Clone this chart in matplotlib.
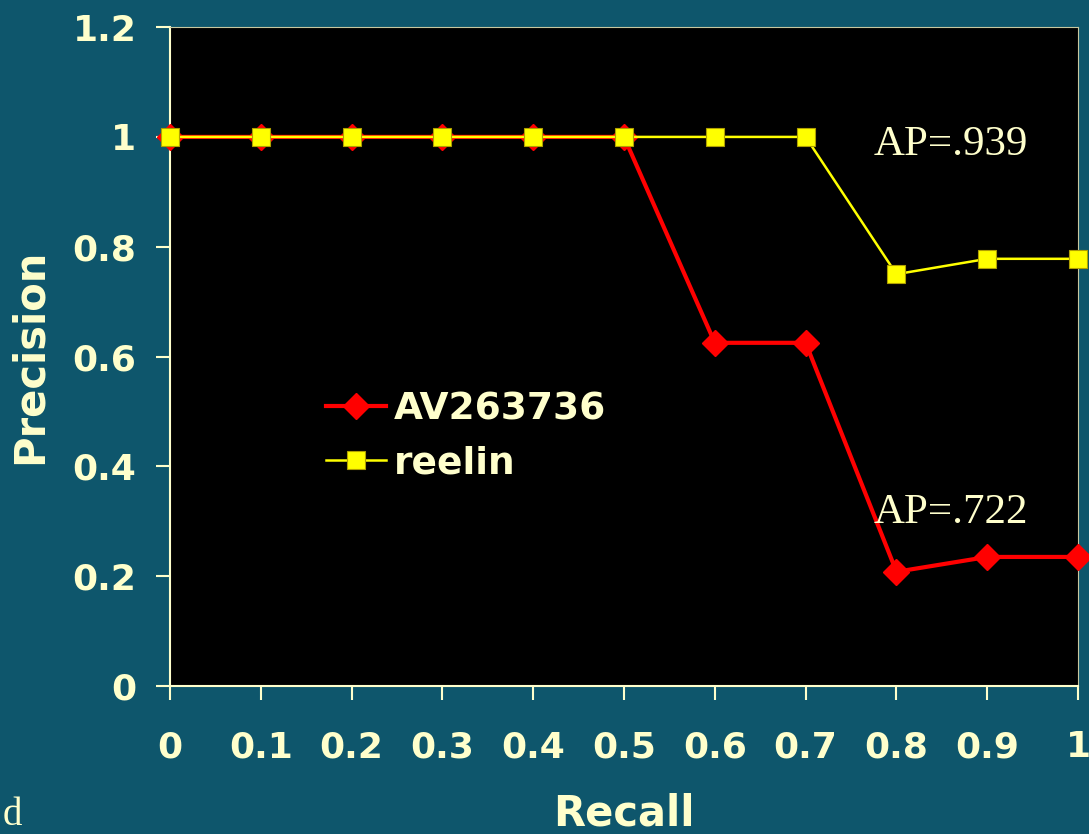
import matplotlib.pyplot as plt

recall = [0, 0.1, 0.2, 0.3, 0.4, 0.5, 0.6, 0.7, 0.8, 0.9, 1.0]
av263736 = [1, 1, 1, 1, 1, 1, 0.625, 0.625, 0.208, 0.235, 0.235]
reelin = [1, 1, 1, 1, 1, 1, 1, 1, 0.75, 0.778, 0.778]
xticks = [0, 0.1, 0.2, 0.3, 0.4, 0.5, 0.6, 0.7, 0.8, 0.9, 1]
xlabels = ["0", "0.1", "0.2", "0.3", "0.4", "0.5", "0.6", "0.7", "0.8", "0.9", "1"]
yticks = [0, 0.2, 0.4, 0.6, 0.8, 1, 1.2]
ylabels = ["0", "0.2", "0.4", "0.6", "0.8", "1", "1.2"]

bg = "#0e566c"
cream = "#ffffcc"

fig = plt.figure(figsize=(10.89, 8.34), dpi=100, facecolor=bg)
ax = fig.add_axes([0.156, 0.1775, 0.834, 0.79])
ax.set_facecolor("black")

ax.plot(recall, av263736, color="#ff0000", lw=3, marker="D", markersize=13,
        markeredgecolor="#ff0000", label="AV263736", clip_on=False, zorder=3)
ax.plot(recall, reelin, color="#ffff00", lw=1.8, marker="s", markersize=13,
        markeredgecolor="#b0a000", markeredgewidth=0.8, label="reelin",
        clip_on=False, zorder=4)

ax.set_xlim(0, 1)
ax.set_ylim(0, 1.2)
ax.set_xticks(xticks)
ax.set_xticklabels(xlabels)
ax.set_yticks(yticks)
ax.set_yticklabels(ylabels)
ax.tick_params(axis="x", colors=cream, length=10, width=1.5, pad=22,
               labelsize=26)
ax.tick_params(axis="y", colors=cream, length=10, width=1.5, pad=14,
               labelsize=26)
for lab in ax.get_xticklabels() + ax.get_yticklabels():
    lab.set_fontweight("bold")

for s in ["left", "bottom"]:
    ax.spines[s].set_color(cream)
    ax.spines[s].set_linewidth(1.5)
for s in ["top", "right"]:
    ax.spines[s].set_color("#c8c8a0")
    ax.spines[s].set_linewidth(0.8)

ax.set_xlabel("Recall", color=cream, fontsize=30, fontweight="bold", labelpad=20)
ax.set_ylabel("Precision", color=cream, fontsize=30, fontweight="bold", labelpad=16)

ax.text(0.775, 0.985, "AP=.939", color=cream, fontsize=31,
        family="Liberation Serif", va="center", ha="left")
ax.text(0.775, 0.315, "AP=.722", color=cream, fontsize=31,
        family="Liberation Serif", va="center", ha="left")

leg = ax.legend(loc="upper left", bbox_to_anchor=(0.155, 0.47), frameon=False,
                fontsize=27, handlelength=1.6, handletextpad=0.22,
                labelspacing=0.48, borderaxespad=0)
for t in leg.get_texts():
    t.set_color(cream)
    t.set_fontweight("bold")

fig.text(0.002, 0.0, "d", color=cream, fontsize=28, family="Liberation Serif",
         ha="left", va="bottom")

fig.savefig("out.png", dpi=100, facecolor=bg)
